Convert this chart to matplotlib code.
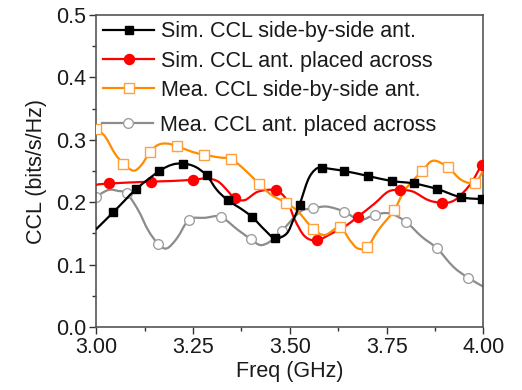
import matplotlib
matplotlib.use("Agg")
import matplotlib.pyplot as plt
import numpy as np
from matplotlib.ticker import MultipleLocator
from matplotlib.path import Path
from matplotlib.patches import PathPatch

plt.rcParams['font.family'] = ['Liberation Sans', 'DejaVu Sans']

# ---- data ----
sim_sbs_x = [3.000, 3.044, 3.103, 3.163, 3.195, 3.223, 3.255, 3.285, 3.311, 3.340,
             3.375, 3.403, 3.436, 3.462, 3.492, 3.509, 3.525, 3.547, 3.565, 3.582,
             3.641, 3.702, 3.763, 3.821, 3.881, 3.941, 3.997]
sim_sbs_y = [0.157, 0.184, 0.221, 0.250, 0.260, 0.262, 0.257, 0.243, 0.220, 0.203,
             0.189, 0.176, 0.155, 0.142, 0.150, 0.172, 0.196, 0.236, 0.252, 0.255,
             0.250, 0.242, 0.234, 0.230, 0.221, 0.208, 0.205]
sim_sbs_mk = [1, 2, 3, 5, 7, 9, 11, 13, 16, 19, 20, 21, 22, 23, 24, 25, 26]

sim_acr_x = [3.000, 3.033, 3.140, 3.195, 3.249, 3.285, 3.315, 3.341, 3.357, 3.384,
             3.418, 3.463, 3.492, 3.513, 3.539, 3.570, 3.608, 3.642, 3.676, 3.719,
             3.754, 3.785, 3.818, 3.857, 3.893, 3.926, 3.965, 3.995]
sim_acr_y = [0.228, 0.230, 0.233, 0.234, 0.236, 0.238, 0.233, 0.217, 0.206, 0.2035,
             0.217, 0.219, 0.2035, 0.1715, 0.145, 0.139, 0.150, 0.161, 0.177, 0.198,
             0.217, 0.2196, 0.217, 0.2035, 0.199, 0.2035, 0.228, 0.260]
sim_acr_mk = [1, 2, 4, 8, 11, 15, 18, 21, 24, 27]

mea_sbs_x = [3.000, 3.023, 3.048, 3.070, 3.096, 3.117, 3.139, 3.160, 3.182, 3.208,
             3.246, 3.279, 3.315, 3.349, 3.384, 3.421, 3.453, 3.490, 3.521, 3.560,
             3.590, 3.629, 3.655, 3.675, 3.700, 3.728, 3.769, 3.797, 3.841, 3.870,
             3.908, 3.943, 3.978, 4.000]
mea_sbs_y = [0.317, 0.305, 0.278, 0.262, 0.2505, 0.260, 0.281, 0.292, 0.294, 0.290,
             0.281, 0.276, 0.272, 0.2687, 0.2516, 0.229, 0.2115, 0.199, 0.185, 0.1575,
             0.1474, 0.160, 0.139, 0.126, 0.128, 0.155, 0.187, 0.2196, 0.2497, 0.2665,
             0.256, 0.2356, 0.2313, 0.2516]
mea_sbs_mk = [0, 3, 6, 9, 11, 13, 15, 17, 19, 21, 24, 26, 28, 30, 32]

mea_acr_x = [3.000, 3.031, 3.057, 3.079, 3.108, 3.134, 3.160, 3.182, 3.208, 3.240,
             3.281, 3.321, 3.367, 3.399, 3.423, 3.448, 3.479, 3.513, 3.534, 3.560,
             3.595, 3.640, 3.681, 3.719, 3.758, 3.799, 3.840, 3.880, 3.922, 3.960,
             4.000]
mea_acr_y = [0.209, 0.2196, 0.218, 0.214, 0.1875, 0.155, 0.133, 0.126, 0.142, 0.172,
             0.175, 0.1765, 0.155, 0.141, 0.1314, 0.1367, 0.154, 0.177, 0.1875, 0.190,
             0.193, 0.185, 0.1715, 0.180, 0.182, 0.169, 0.145, 0.126, 0.0966, 0.079,
             0.0646]
mea_acr_mk = [0, 3, 6, 9, 11, 13, 16, 19, 21, 23, 25, 27, 29]

labels = ["Sim. CCL side-by-side ant.", "Sim. CCL ant. placed across",
          "Mea. CCL side-by-side ant.", "Mea. CCL ant. placed across"]
x_ticks = [3.00, 3.25, 3.50, 3.75, 4.00]
x_ticklabels = ["3.00", "3.25", "3.50", "3.75", "4.00"]
y_ticks = [0.0, 0.1, 0.2, 0.3, 0.4, 0.5]
y_ticklabels = ["0.0", "0.1", "0.2", "0.3", "0.4", "0.5"]


def smooth_path(xs, ys):
    """Catmull-Rom style Bezier path through the data points (rendering only)."""
    p = np.column_stack([xs, ys]).astype(float)
    n = len(p)
    verts = [p[0]]
    codes = [Path.MOVETO]
    for i in range(n - 1):
        p0 = p[i - 1] if i > 0 else p[i]
        p1 = p[i]
        p2 = p[i + 1]
        p3 = p[i + 2] if i + 2 < n else p[i + 1]
        c1 = p1 + (p2 - p0) / 6.0
        c2 = p2 - (p3 - p1) / 6.0
        verts += [c1, c2, p2]
        codes += [Path.CURVE4] * 3
    return Path(verts, codes)


# ---- figure ----
fig = plt.figure(figsize=(5.22, 3.90), dpi=100)
ax = fig.add_axes([0.1845, 0.1615, 0.7417, 0.8000])

FS = 15.5
LW = 1.6
series = [
    (sim_sbs_x, sim_sbs_y, sim_sbs_mk, dict(color='black', marker='s', ms=5.8,
                                             mfc='black', mec='black'), 4),
    (sim_acr_x, sim_acr_y, sim_acr_mk, dict(color='#ff0000', marker='o', ms=7.2,
                                             mfc='#ff0000', mec='#ff0000'), 3),
    (mea_sbs_x, mea_sbs_y, mea_sbs_mk, dict(color='#ff8c00', marker='s', ms=6.5,
                                             mfc='white', mec='#ffa040', mew=1.0), 3),
    (mea_acr_x, mea_acr_y, mea_acr_mk, dict(color='#8c8c8c', marker='o', ms=7.0,
                                             mfc='white', mec='#a0a0a0', mew=1.0), 2),
]
lines = []
for (xs, ys, mk, st, z), lab in zip(series, labels):
    ln, = ax.plot(xs, ys, lw=LW, markevery=mk, label=lab, zorder=z + 0.5, **st)
    lines.append(ln)
    ax.add_patch(PathPatch(smooth_path(xs, ys), facecolor='none', edgecolor=st['color'],
                           lw=LW, zorder=z, capstyle='round', joinstyle='round'))

ax.set_xlim(3.0, 4.0)
ax.set_ylim(0.0, 0.5)
ax.set_xticks(x_ticks)
ax.set_xticklabels(x_ticklabels)
ax.set_yticks(y_ticks)
ax.set_yticklabels(y_ticklabels)
ax.xaxis.set_minor_locator(MultipleLocator(0.125))
ax.yaxis.set_minor_locator(MultipleLocator(0.05))
ax.tick_params(which='major', direction='out', length=5, width=1.0, labelsize=FS,
               colors='#333333', labelcolor='#1a1a1a', pad=2.5)
ax.tick_params(which='minor', direction='out', length=3, width=1.0, colors='#333333')
ax.tick_params(top=False, right=False, which='both')
for s in ax.spines.values():
    s.set_color('#555555')
    s.set_linewidth(1.2)

ax.set_xlabel("Freq (GHz)", fontsize=FS, color='#1a1a1a', labelpad=2)
ax.set_ylabel("CCL (bits/s/Hz)", fontsize=FS, color='#1a1a1a', labelpad=6)

leg1 = ax.legend(handles=lines[:3], loc='upper left', frameon=False, fontsize=FS,
                 handlelength=2.4, handletextpad=0.3, labelspacing=0.38,
                 borderaxespad=0.1, borderpad=0.2)
ax.add_artist(leg1)
leg2 = ax.legend(handles=lines[3:], loc='center left', bbox_to_anchor=(0.003, 0.647),
                 frameon=False, fontsize=FS, handlelength=2.4, handletextpad=0.3,
                 borderaxespad=0.0, borderpad=0.2)
for lg in (leg1, leg2):
    for t in lg.get_texts():
        t.set_color('#1a1a1a')

# legend handles were copied with the line style; the data lines themselves are drawn smooth
for ln in lines:
    ln.set_linestyle('none')

fig.savefig("out.png", dpi=100)
